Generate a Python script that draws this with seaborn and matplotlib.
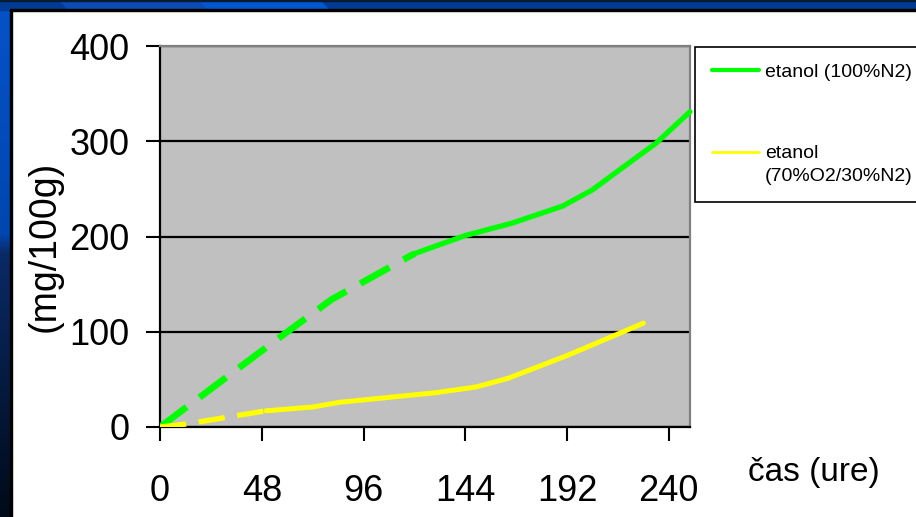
import numpy as np
import matplotlib
matplotlib.use("Agg")
import matplotlib.pyplot as plt
from matplotlib.patches import Rectangle, Polygon
from matplotlib.lines import Line2D
from matplotlib.colors import to_rgb
import seaborn as sns

# Ethanol content (mg/100g) over storage time (hours)
hours_n2_early = [0, 54, 81, 120]
ethanol_n2_early = [0, 90, 134, 182]
hours_n2_late = [120, 144, 166, 190, 204, 218, 234, 250]
ethanol_n2_late = [182, 201, 214, 232, 249, 272, 298, 331]

hours_o2_early = [0, 12, 50]
ethanol_o2_early = [0, 3, 17]
hours_o2_late = [50, 72, 85, 130, 149, 164, 192, 228]
ethanol_o2_late = [17, 21, 26, 36, 42, 51, 75, 109]

x_ticks = [0, 48, 96, 144, 192, 240]
y_ticks = [0, 100, 200, 300, 400]
series_labels = ["etanol (100%N2)", "etanol\n(70%O2/30%N2)"]
series_colors = ["#00FF00", "#FFFF00"]
x_title = "čas (ure)"
y_title = "(mg/100g)"

sns.set_theme(style="white")
plt.rcParams["font.family"] = ["Liberation Sans", "DejaVu Sans"]

W, H = 916, 517
fig = plt.figure(figsize=(W / 100, H / 100), dpi=100)
fig.patch.set_facecolor("white")


def fx(px):
    return px / W


def fy(py):
    return 1 - py / H


# slide frame: blue band on top, gradient band on the left
tf = fig.transFigure
fig.patches.append(Rectangle((0, fy(10)), 1, 10 / H, transform=tf,
                             color="#003C96", zorder=0))
fig.patches.append(Polygon([(fx(60), fy(1)), (fx(200), fy(1)),
                            (fx(208), fy(9)), (fx(68), fy(9))],
                           closed=True, transform=tf, color="#0A4CB4", zorder=0.5))
fig.patches.append(Polygon([(fx(200), fy(1)), (fx(320), fy(1)),
                            (fx(328), fy(9)), (fx(208), fy(9))],
                           closed=True, transform=tf, color="#0058D0", zorder=0.5))
fig.patches.append(Rectangle((0, fy(1)), 1, 1 / H, transform=tf,
                             color="#0A1A30", zorder=1))
fig.patches.append(Rectangle((fx(10), fy(11)), 1, 2 / H, transform=tf,
                             color="black", zorder=1))

strip = fig.add_axes([0, 0, fx(10), 1 - 10 / H])
strip.set_axis_off()
rows = 520
grad = np.zeros((rows, 2, 3))
top_c, mid_c = np.array(to_rgb("#0552C8")), np.array(to_rgb("#0046B0"))
dark_c, bot_c = np.array(to_rgb("#0A2A66")), np.array(to_rgb("#000A18"))
for i in range(rows):
    t = i / rows
    if t < 0.44:
        grad[i, :] = top_c + (mid_c - top_c) * (t / 0.44)
    elif t < 0.48:
        grad[i, :] = mid_c + (dark_c - mid_c) * ((t - 0.44) / 0.04)
    else:
        grad[i, :] = dark_c + (bot_c - dark_c) * ((t - 0.48) / 0.52)
strip.imshow(grad, aspect="auto", interpolation="bilinear")
fig.patches.append(Rectangle((fx(10), 0), 2 / W, 1 - 10 / H, transform=tf,
                             color="black", zorder=1))

# main chart area
ax = fig.add_axes([fx(160), fy(427), fx(690) - fx(160), (427 - 46) / H])
ax.set_facecolor("#C0C0C0")

dash = (0, (5.0, 2.4))
sns.lineplot(x=hours_n2_early, y=ethanol_n2_early, ax=ax, color=series_colors[0],
             lw=4.8, linestyle=dash, dash_capstyle="butt", estimator=None,
             sort=False, zorder=3)
sns.lineplot(x=hours_n2_late, y=ethanol_n2_late, ax=ax, color=series_colors[0],
             lw=3.8, estimator=None, sort=False, zorder=3, clip_on=False)
sns.lineplot(x=hours_o2_early, y=ethanol_o2_early, ax=ax, color=series_colors[1],
             lw=3.8, linestyle=dash, dash_capstyle="butt", estimator=None,
             sort=False, zorder=3)
sns.lineplot(x=hours_o2_late, y=ethanol_o2_late, ax=ax, color=series_colors[1],
             lw=3.6, estimator=None, sort=False, zorder=3)

ax.set_xlim(0, 250)
ax.set_ylim(0, 400)
ax.set_xticks(x_ticks)
ax.set_yticks(y_ticks)
ax.set_xlabel("")
ax.set_ylabel("")
ax.yaxis.grid(True, color="black", lw=1.6)
ax.xaxis.grid(False)
ax.set_axisbelow(True)

for side in ("left", "bottom"):
    ax.spines[side].set_color("black")
    ax.spines[side].set_linewidth(1.6)
for side in ("top", "right"):
    ax.spines[side].set_color("#808080")
    ax.spines[side].set_linewidth(1.6)

ax.tick_params(axis="both", which="major", direction="out", length=10,
               width=1.5, color="black", labelcolor="black", labelsize=26,
               bottom=True, left=True)
ax.tick_params(axis="x", pad=24)
ax.tick_params(axis="y", pad=12)

fig.text(fx(45), fy(246), y_title, rotation=90, ha="center", va="center",
         fontsize=27, color="black")
fig.text(fx(748), fy(472), x_title, ha="left", va="center",
         fontsize=24, color="black")

handles = [Line2D([0], [0], color=series_colors[0], lw=3.0),
           Line2D([0], [0], color=series_colors[1], lw=2.0)]
leg = fig.legend(handles, series_labels, loc="upper left",
                 bbox_to_anchor=(fx(695), fy(47)), bbox_transform=tf,
                 borderaxespad=0, frameon=True, fancybox=False,
                 edgecolor="black", facecolor="white", framealpha=1,
                 fontsize=14, handlelength=2.45, handletextpad=0.3,
                 borderpad=0.85, labelspacing=3.3)
leg.get_frame().set_linewidth(1.2)
for txt in leg.get_texts():
    txt.set_color("black")
    txt.set_linespacing(1.45)
# keep the second handle level with the first line of its label
rows_box = leg._legend_handle_box.get_children()[0].get_children()
rows_box[1].align = "top"

fig.savefig("out.png", dpi=100, facecolor=fig.get_facecolor())
